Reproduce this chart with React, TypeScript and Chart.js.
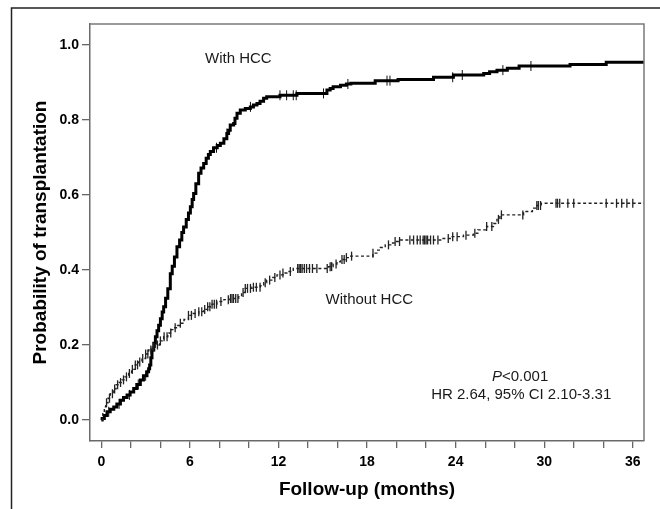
import React, { useEffect, useRef } from "react";
import { Chart, registerables } from "chart.js";

Chart.register(...registerables);

// ---- Data ----
const hccTimes = [
  0, 0.05, 0.2, 0.38, 0.6, 0.84, 1.05, 1.29, 1.5, 1.74, 1.95, 2.19, 2.4, 2.64, 2.85, 3.09, 3.2, 3.27, 3.35,
  3.43, 3.55, 3.66, 3.77, 3.88, 4.0, 4.12, 4.22, 4.35, 4.5, 4.67, 4.8, 4.95, 5.12, 5.3, 5.45, 5.57, 5.75,
  5.9, 6.03, 6.15, 6.25, 6.4, 6.59, 6.75, 6.93, 7.1, 7.25, 7.38, 7.6, 7.85, 8.06, 8.3, 8.5, 8.62, 8.73,
  8.96, 9.05, 9.19, 9.41, 9.75, 10.09, 10.3, 10.54, 10.75, 10.99, 11.2, 12.1, 13.25, 15.28, 15.5, 15.7,
  16.2, 16.6, 16.9, 18.55, 20.1, 22.5, 23.85, 25.9, 26.3, 26.8, 27.5, 28.3, 31.75, 34.2, 36.76,
];
const hccProb = [
  0, 0.004, 0.012, 0.022, 0.029, 0.035, 0.043, 0.053, 0.06, 0.067, 0.075, 0.084, 0.095, 0.107, 0.118,
  0.129, 0.137, 0.147, 0.166, 0.187, 0.205, 0.222, 0.238, 0.253, 0.27, 0.288, 0.302, 0.325, 0.35, 0.39,
  0.41, 0.435, 0.462, 0.48, 0.5, 0.515, 0.535, 0.552, 0.569, 0.588, 0.604, 0.63, 0.658, 0.672, 0.684,
  0.698, 0.708, 0.716, 0.726, 0.732, 0.738, 0.75, 0.764, 0.773, 0.787, 0.791, 0.805, 0.818, 0.827,
  0.831, 0.835, 0.84, 0.844, 0.85, 0.858, 0.862, 0.866, 0.871, 0.88, 0.884, 0.889, 0.893, 0.896, 0.898,
  0.905, 0.908, 0.914, 0.92, 0.924, 0.929, 0.933, 0.938, 0.944, 0.948, 0.954, 0.954,
];

const noHccTimes = [
  0, 0.1, 0.2, 0.3, 0.45, 0.6, 0.8, 1.0, 1.2, 1.4, 1.6, 1.85, 2.05, 2.3, 2.5, 2.75, 3.0, 3.2, 3.45, 3.66,
  3.95, 4.22, 4.5, 4.75, 4.9, 5.15, 5.35, 5.6, 5.9, 6.2, 6.6, 6.93, 7.2, 7.5, 7.83, 8.3, 8.73, 9.3, 9.5,
  9.75, 10.2, 10.76, 11.0, 11.2, 11.6, 11.9, 12.3, 12.57, 13.0, 15.4, 15.7, 15.96, 16.2, 16.5, 16.8,
  18.4, 18.66, 18.9, 19.23, 19.6, 19.9, 20.24, 23.07, 23.63, 24.53, 25.2, 25.5, 26.1, 26.56, 26.8, 27.0,
  28.6, 29.2, 29.5, 29.8, 36.76,
];
const noHccProb = [
  0, 0.02, 0.035, 0.046, 0.058, 0.07, 0.083, 0.094, 0.1, 0.107, 0.115, 0.124, 0.135, 0.147, 0.155,
  0.164, 0.176, 0.187, 0.194, 0.2, 0.211, 0.222, 0.232, 0.241, 0.246, 0.252, 0.258, 0.268, 0.279, 0.284,
  0.289, 0.295, 0.302, 0.309, 0.316, 0.321, 0.324, 0.329, 0.34, 0.351, 0.354, 0.358, 0.366, 0.373, 0.38,
  0.387, 0.392, 0.396, 0.404, 0.409, 0.416, 0.422, 0.428, 0.433, 0.437, 0.445, 0.453, 0.46, 0.467, 0.472,
  0.476, 0.48, 0.484, 0.489, 0.493, 0.498, 0.507, 0.516, 0.524, 0.535, 0.547, 0.556, 0.565, 0.572, 0.578,
  0.578,
];

const hccCensored = [
  0.5, 1.2, 1.9, 2.5, 3.0, 7.8, 8.5, 10.1, 12.1, 12.55, 13.0, 13.2, 15.05, 16.7, 19.35, 19.55, 23.8,
  24.45, 27.2, 29.1,
];
const noHccCensored = [
  0.35, 0.55, 0.75, 0.9, 1.1, 1.3, 1.5, 1.7, 1.9, 2.1, 2.3, 2.45, 2.6, 2.8, 3.0, 3.15, 3.35, 3.55, 3.8,
  4.0, 4.25, 4.45, 4.7, 5.0, 5.35, 5.9, 6.1, 6.35, 6.6, 6.8, 7.0, 7.2, 7.35, 7.5, 7.65, 7.8, 8.1, 8.6,
  8.75, 8.85, 8.95, 9.1, 9.25, 9.6, 9.75, 9.9, 10.1, 10.3, 10.5, 10.75, 11.1, 11.4, 11.75, 12.1, 12.3,
  12.8, 13.3, 13.4, 13.5, 13.6, 13.75, 13.9, 14.1, 14.3, 14.6, 15.3, 15.5, 15.6, 15.9, 16.3, 16.45, 16.6,
  16.95, 18.4, 19.45, 19.9, 20.2, 20.9, 21.15, 21.4, 21.6, 21.8, 21.9, 22.0, 22.1, 22.3, 22.5, 22.8,
  23.5, 23.8, 24.1, 24.7, 25.3, 26.1, 26.45, 26.9, 27.1, 28.55, 29.5, 29.6, 29.75, 30.8, 30.9, 31.05,
  31.6, 32.0, 34.2, 34.9, 35.25, 35.6, 36.0,
];

const xTickValues = [0, 2, 4, 6, 8, 10, 12, 14, 16, 18, 20, 22, 24, 26, 28, 30, 32, 34, 36];
const xLabelValues = [0, 6, 12, 18, 24, 30, 36];
const yTickValues = [0, 0.2, 0.4, 0.6, 0.8, 1.0];

const xTitle = "Follow-up (months)";
const yTitle = "Probability of transplantation";

// annotation texts anchored in data coordinates (months, probability)
const labelWithHcc = { text: "With HCC", x: 9.28, y: 0.964 };
const labelWithoutHcc = { text: "Without HCC", x: 18.15, y: 0.32 };
const labelP = { italic: "P", rest: "<0.001", x: 28.37, y: 0.115 };
const labelHR = { text: "HR 2.64, 95% CI 2.10-3.31", x: 28.44, y: 0.067 };

const FONT = 'Arial, "Liberation Sans", Helvetica, sans-serif';

function stepValue(times: number[], probs: number[], t: number) {
  let v = probs[0];
  for (let i = 0; i < times.length; i++) {
    if (times[i] <= t) v = probs[i];
    else break;
  }
  return v;
}

const decorPlugin = {
  id: "decor",
  afterDraw(chart: any) {
    const { ctx, chartArea, scales } = chart;
    const xs = scales.x;
    const ys = scales.y;
    ctx.save();
    // top / right sides of the plot box
    ctx.strokeStyle = "#7a7a7a";
    ctx.lineWidth = 1.5;
    ctx.beginPath();
    ctx.moveTo(chartArea.left, chartArea.top);
    ctx.lineTo(chartArea.right, chartArea.top);
    ctx.lineTo(chartArea.right, chartArea.bottom);
    ctx.stroke();
    // outer frame
    ctx.strokeStyle = "#222";
    ctx.lineWidth = 1.5;
    ctx.beginPath();
    ctx.moveTo(11.5, chart.height);
    ctx.lineTo(11.5, 8);
    ctx.lineTo(chart.width, 8);
    ctx.stroke();

    // annotations
    ctx.fillStyle = "#1a1a1a";
    ctx.textAlign = "center";
    ctx.textBaseline = "middle";
    ctx.font = `15px ${FONT}`;
    ctx.fillText(labelWithHcc.text, xs.getPixelForValue(labelWithHcc.x), ys.getPixelForValue(labelWithHcc.y));
    ctx.fillText(
      labelWithoutHcc.text,
      xs.getPixelForValue(labelWithoutHcc.x),
      ys.getPixelForValue(labelWithoutHcc.y)
    );
    ctx.fillText(labelHR.text, xs.getPixelForValue(labelHR.x), ys.getPixelForValue(labelHR.y));

    // P<0.001 with italic P
    const px = xs.getPixelForValue(labelP.x);
    const py = ys.getPixelForValue(labelP.y);
    ctx.font = `italic 15px ${FONT}`;
    const w1 = ctx.measureText(labelP.italic).width;
    ctx.font = `15px ${FONT}`;
    const w2 = ctx.measureText(labelP.rest).width;
    const startX = px - (w1 + w2) / 2;
    ctx.textAlign = "left";
    ctx.font = `italic 15px ${FONT}`;
    ctx.fillText(labelP.italic, startX, py);
    ctx.font = `15px ${FONT}`;
    ctx.fillText(labelP.rest, startX + w1, py);
    ctx.restore();
  },
};

export default function App() {
  const canvasRef = useRef<HTMLCanvasElement | null>(null);

  useEffect(() => {
    document.body.style.margin = "0";
    const canvas = canvasRef.current;
    if (!canvas) return;

    const hccLine = hccTimes.map((t, i) => ({ x: t, y: hccProb[i] }));
    const noHccLine = noHccTimes.map((t, i) => ({ x: t, y: noHccProb[i] }));
    const hccMarks = hccCensored.map((t) => ({ x: t, y: stepValue(hccTimes, hccProb, t) }));
    const noHccMarks = noHccCensored.map((t) => ({ x: t, y: stepValue(noHccTimes, noHccProb, t) }));

    const chart = new Chart(canvas, {
      type: "line",
      data: {
        datasets: [
          {
            label: "Without HCC",
            data: noHccLine,
            borderColor: "#222",
            borderWidth: 1.4,
            borderDash: [3, 2.5],
            stepped: true,
            pointRadius: 0,
            fill: false,
          },
          {
            label: "Without HCC censored",
            data: noHccMarks,
            showLine: false,
            pointStyle: "line",
            rotation: 90,
            pointRadius: 4.5,
            pointBorderWidth: 1.3,
            pointBorderColor: "#222",
            borderColor: "#222",
          },
          {
            label: "With HCC",
            data: hccLine,
            borderColor: "#000",
            borderWidth: 3,
            stepped: true,
            pointRadius: 0,
            fill: false,
          },
          {
            label: "With HCC censored",
            data: hccMarks,
            showLine: false,
            pointStyle: "line",
            rotation: 90,
            pointRadius: 5,
            pointBorderWidth: 1,
            pointBorderColor: "#111",
            borderColor: "#111",
          },
        ],
      },
      options: {
        responsive: false,
        animation: false,
        devicePixelRatio: 1,
        layout: { padding: { left: 0, top: 24, right: 16, bottom: 0 } },
        plugins: {
          legend: { display: false },
          tooltip: { enabled: false },
        },
        scales: {
          x: {
            type: "linear",
            min: -0.77,
            max: 36.76,
            afterBuildTicks: (scale: any) => {
              scale.ticks = xTickValues.map((v) => ({ value: v }));
            },
            afterFit: (scale: any) => {
              scale.height = 68;
            },
            ticks: {
              autoSkip: false,
              maxRotation: 0,
              padding: 6,
              color: "#000",
              font: { family: FONT, size: 14, weight: "bold" },
              callback: (value: any) => (xLabelValues.includes(Number(value)) ? String(value) : ""),
            },
            grid: {
              drawOnChartArea: false,
              drawTicks: true,
              tickLength: 7,
              color: "#666",
              lineWidth: 1.3,
            },
            border: { display: true, color: "#6a6a6a", width: 1.5 },
            title: {
              display: true,
              text: xTitle,
              color: "#000",
              font: { family: FONT, size: 19, weight: "bold" },
              padding: { top: 0, bottom: 8 },
            },
          },
          y: {
            type: "linear",
            min: -0.056,
            max: 1.056,
            afterBuildTicks: (scale: any) => {
              scale.ticks = yTickValues.map((v) => ({ value: v }));
            },
            afterFit: (scale: any) => {
              scale.width = 90;
            },
            ticks: {
              padding: 3,
              color: "#000",
              font: { family: FONT, size: 14, weight: "bold" },
              callback: (value: any) => Number(value).toFixed(1),
            },
            grid: {
              drawOnChartArea: false,
              drawTicks: true,
              tickLength: 8,
              color: "#666",
              lineWidth: 1.3,
            },
            border: { display: true, color: "#6a6a6a", width: 1.5 },
            title: {
              display: true,
              text: yTitle,
              color: "#000",
              font: { family: FONT, size: 19, weight: "bold" },
              padding: { top: 29, bottom: 0 },
            },
          },
        },
      },
      plugins: [decorPlugin],
    } as any);

    return () => {
      chart.destroy();
    };
  }, []);

  return (
    <div style={{ width: 660, height: 509, position: "relative", background: "#fff" }}>
      <canvas ref={canvasRef} width={660} height={509} style={{ display: "block" }} />
    </div>
  );
}
